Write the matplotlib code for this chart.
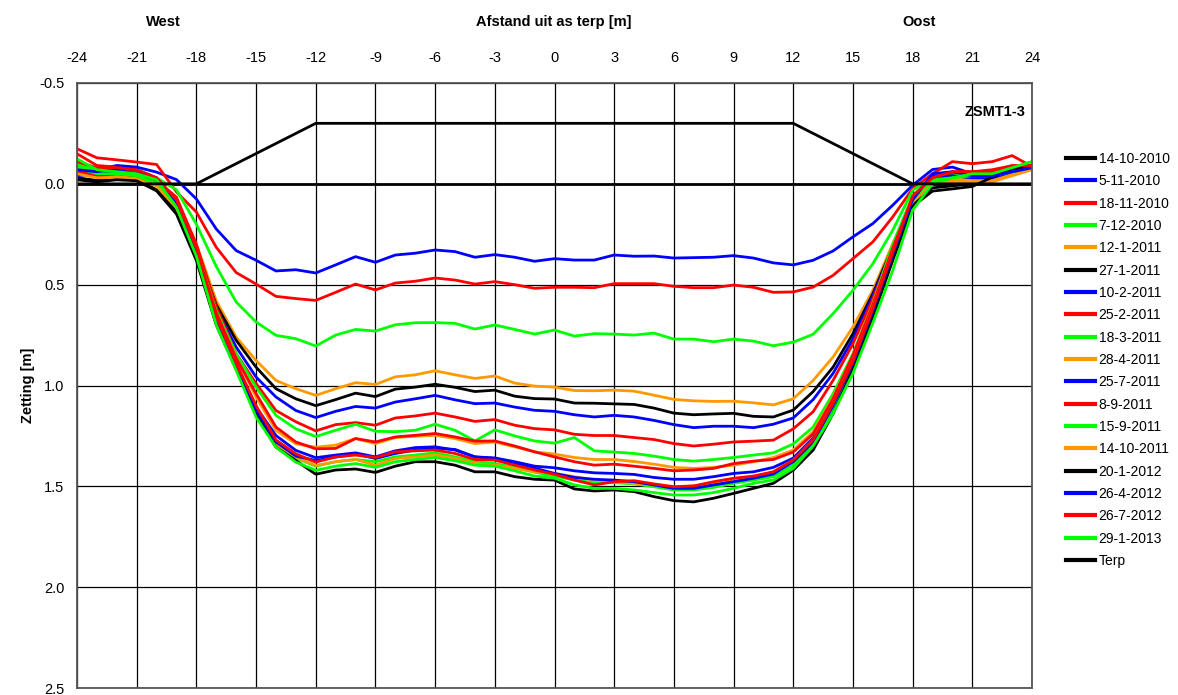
import matplotlib
matplotlib.use("Agg")
import matplotlib.pyplot as plt
import numpy as np

plt.rcParams['font.family'] = ['Liberation Sans', 'DejaVu Sans']

# ---- data ----
x_m = list(range(-24, 25))
xticks = list(range(-24, 25, 3))
yticks = [-0.5, 0.0, 0.5, 1.0, 1.5, 2.0, 2.5]

labels = ["14-10-2010", "5-11-2010", "18-11-2010", "7-12-2010", "12-1-2011", "27-1-2011",
          "10-2-2011", "25-2-2011", "18-3-2011", "28-4-2011", "25-7-2011", "8-9-2011",
          "15-9-2011", "14-10-2011", "20-1-2012", "26-4-2012", "26-7-2012", "29-1-2013"]
colors = ["#000000", "#0000FF", "#FF0000", "#00FF00", "#FF9900", "#000000",
          "#0000FF", "#FF0000", "#00FF00", "#FF9900", "#0000FF", "#FF0000",
          "#00FF00", "#FF9900", "#000000", "#0000FF", "#FF0000", "#00FF00"]

s_14_10_2010 = [0.0] * 49
s_5_11_2010 = [-0.086, -0.071, -0.091, -0.083, -0.058, -0.021, 0.075, 0.224, 0.331, 0.379, 0.432, 0.426, 0.442,
               0.402, 0.361, 0.389, 0.353, 0.344, 0.328, 0.336, 0.364, 0.351, 0.364, 0.384, 0.371,
               0.378, 0.378, 0.353, 0.359, 0.358, 0.368, 0.366, 0.364, 0.356, 0.368, 0.392, 0.402,
               0.379, 0.333, 0.263, 0.197, 0.106, 0.007, -0.071, -0.083, -0.05, -0.05, -0.07, -0.08]
s_18_11_2010 = [-0.174, -0.129, -0.119, -0.108, -0.096, 0.04, 0.14, 0.315, 0.44, 0.497, 0.558, 0.569, 0.578,
                0.538, 0.497, 0.526, 0.492, 0.483, 0.467, 0.477, 0.497, 0.485, 0.5, 0.518, 0.513,
                0.513, 0.515, 0.495, 0.495, 0.495, 0.508, 0.515, 0.515, 0.502, 0.513, 0.538, 0.536,
                0.512, 0.454, 0.371, 0.288, 0.164, 0.024, -0.05, -0.11, -0.10, -0.11, -0.14, -0.086]
s_7_12_2010 = [-0.10, -0.07, -0.06, -0.05, -0.03, 0.03, 0.2, 0.41, 0.586, 0.685, 0.751, 0.768, 0.804,
               0.75, 0.722, 0.73, 0.699, 0.689, 0.688, 0.692, 0.72, 0.70, 0.722, 0.745, 0.725,
               0.755, 0.743, 0.745, 0.75, 0.74, 0.77, 0.77, 0.783, 0.77, 0.78, 0.803, 0.785,
               0.746, 0.644, 0.528, 0.396, 0.23, 0.032, -0.03, -0.04, -0.05, -0.05, -0.07, -0.09]
s_12_1_2011 = [-0.07, -0.041, -0.036, -0.03, 0.0, 0.08, 0.30, 0.58, 0.76, 0.876, 0.975, 1.016, 1.049,
               1.016, 0.986, 0.995, 0.957, 0.947, 0.927, 0.947, 0.965, 0.953, 0.988, 1.003, 1.008,
               1.025, 1.026, 1.023, 1.028, 1.048, 1.069, 1.076, 1.079, 1.078, 1.086, 1.096, 1.066,
               0.975, 0.859, 0.71, 0.528, 0.297, 0.081, -0.01, -0.02, -0.02, -0.02, -0.06, -0.08]
s_27_1_2011 = [-0.03, -0.017, -0.03, -0.025, 0.03, 0.13, 0.33, 0.60, 0.776, 0.909, 1.016, 1.066, 1.10,
               1.07, 1.038, 1.055, 1.018, 1.008, 0.994, 1.009, 1.03, 1.023, 1.053, 1.065, 1.067,
               1.087, 1.088, 1.091, 1.094, 1.112, 1.137, 1.145, 1.141, 1.138, 1.153, 1.156, 1.122,
               1.03, 0.909, 0.743, 0.545, 0.313, 0.098, 0.02, 0.01, 0.0, -0.02, -0.06, -0.08]
s_10_2_2011 = [-0.05, -0.06, -0.07, -0.06, -0.02, 0.08, 0.31, 0.62, 0.809, 0.958, 1.057, 1.124, 1.159,
               1.128, 1.104, 1.112, 1.082, 1.066, 1.049, 1.071, 1.09, 1.087, 1.107, 1.123, 1.128,
               1.145, 1.156, 1.148, 1.156, 1.173, 1.194, 1.209, 1.202, 1.202, 1.209, 1.192, 1.161,
               1.07, 0.94, 0.77, 0.554, 0.32, 0.09, -0.04, -0.04, -0.03, -0.03, -0.06, -0.08]
s_25_2_2011 = [-0.149, -0.091, -0.083, -0.061, -0.017, 0.066, 0.30, 0.61, 0.842, 0.99, 1.124, 1.18, 1.225,
               1.194, 1.184, 1.197, 1.161, 1.151, 1.137, 1.156, 1.178, 1.169, 1.197, 1.214, 1.22,
               1.242, 1.248, 1.248, 1.258, 1.268, 1.288, 1.30, 1.291, 1.28, 1.276, 1.271, 1.215,
               1.13, 0.975, 0.793, 0.57, 0.32, 0.08, -0.03, -0.05, -0.06, -0.06, -0.09, -0.09]
s_18_3_2011 = [-0.09, -0.06, -0.05, -0.04, -0.01, 0.09, 0.33, 0.63, 0.842, 1.008, 1.148, 1.215, 1.253,
               1.222, 1.192, 1.227, 1.229, 1.222, 1.192, 1.222, 1.275, 1.22, 1.25, 1.275, 1.286,
               1.258, 1.324, 1.33, 1.337, 1.35, 1.367, 1.375, 1.367, 1.357, 1.345, 1.334, 1.29,
               1.206, 1.041, 0.842, 0.594, 0.30, 0.06, -0.03, -0.04, -0.06, -0.05, -0.08, -0.11]
s_28_4_2011 = [-0.06, -0.04, -0.04, -0.03, 0.0, 0.1, 0.33, 0.64, 0.86, 1.057, 1.223, 1.289, 1.306,
               1.296, 1.263, 1.288, 1.258, 1.252, 1.247, 1.263, 1.288, 1.28, 1.304, 1.329, 1.34,
               1.357, 1.367, 1.367, 1.377, 1.39, 1.406, 1.411, 1.406, 1.395, 1.378, 1.357, 1.32,
               1.23, 1.06, 0.85, 0.594, 0.32, 0.08, -0.01, -0.02, -0.02, -0.02, -0.05, -0.08]
s_25_7_2011 = [-0.04, -0.05, -0.06, -0.05, -0.02, 0.1, 0.34, 0.66, 0.89, 1.107, 1.248, 1.322, 1.358,
               1.345, 1.334, 1.354, 1.324, 1.308, 1.304, 1.32, 1.354, 1.359, 1.378, 1.40, 1.408,
               1.423, 1.433, 1.436, 1.441, 1.456, 1.465, 1.465, 1.452, 1.436, 1.428, 1.406, 1.36,
               1.26, 1.08, 0.88, 0.61, 0.33, 0.08, -0.03, -0.04, -0.03, -0.03, -0.06, -0.08]
s_8_9_2011 = [-0.06, -0.04, -0.05, -0.04, 0.0, 0.1, 0.33, 0.64, 0.865, 1.04, 1.206, 1.28, 1.314,
              1.312, 1.263, 1.28, 1.255, 1.247, 1.238, 1.255, 1.276, 1.275, 1.30, 1.329, 1.354,
              1.378, 1.395, 1.39, 1.40, 1.411, 1.423, 1.419, 1.411, 1.387, 1.375, 1.367, 1.33,
              1.24, 1.066, 0.85, 0.60, 0.32, 0.07, -0.03, -0.06, -0.06, -0.06, -0.08, -0.09]
s_15_9_2011 = [-0.08, -0.05, -0.05, -0.04, 0.0, 0.11, 0.35, 0.67, 0.91, 1.14, 1.289, 1.36, 1.40,
               1.378, 1.367, 1.378, 1.354, 1.345, 1.334, 1.354, 1.378, 1.387, 1.406, 1.43, 1.449,
               1.469, 1.482, 1.482, 1.488, 1.502, 1.518, 1.518, 1.505, 1.485, 1.469, 1.452, 1.395,
               1.296, 1.12, 0.90, 0.64, 0.36, 0.08, -0.02, -0.03, -0.04, -0.04, -0.06, -0.08]
s_14_10_2011 = [-0.05, -0.03, -0.03, -0.02, 0.01, 0.12, 0.36, 0.68, 0.90, 1.12, 1.289, 1.355, 1.397,
                1.378, 1.367, 1.395, 1.362, 1.354, 1.345, 1.362, 1.387, 1.395, 1.411, 1.428, 1.436,
                1.452, 1.469, 1.477, 1.485, 1.493, 1.502, 1.498, 1.485, 1.469, 1.452, 1.428, 1.37,
                1.27, 1.09, 0.88, 0.62, 0.34, 0.09, 0.0, -0.01, -0.01, -0.01, -0.04, -0.07]
s_20_1_2012 = [-0.02, -0.01, -0.02, -0.015, 0.035, 0.15, 0.38, 0.70, 0.92, 1.14, 1.306, 1.372, 1.44,
               1.419, 1.414, 1.431, 1.40, 1.378, 1.378, 1.395, 1.428, 1.428, 1.452, 1.465, 1.469,
               1.513, 1.523, 1.518, 1.526, 1.551, 1.571, 1.577, 1.559, 1.535, 1.51, 1.485, 1.42,
               1.32, 1.14, 0.92, 0.66, 0.38, 0.112, 0.036, 0.025, 0.013, -0.033, -0.074, -0.083]
s_26_4_2012 = [-0.07, -0.06, -0.08, -0.07, -0.03, 0.09, 0.34, 0.67, 0.90, 1.12, 1.28, 1.35, 1.372,
               1.355, 1.34, 1.362, 1.337, 1.32, 1.312, 1.317, 1.354, 1.362, 1.387, 1.41, 1.436,
               1.456, 1.465, 1.469, 1.477, 1.493, 1.51, 1.51, 1.493, 1.477, 1.46, 1.439, 1.378,
               1.28, 1.10, 0.89, 0.63, 0.35, 0.08, -0.05, -0.06, -0.04, -0.04, -0.06, -0.08]
s_26_7_2012 = [-0.11, -0.08, -0.08, -0.07, -0.03, 0.08, 0.32, 0.66, 0.89, 1.10, 1.27, 1.339, 1.38,
               1.354, 1.345, 1.357, 1.329, 1.324, 1.32, 1.337, 1.367, 1.37, 1.395, 1.419, 1.44,
               1.469, 1.493, 1.477, 1.472, 1.488, 1.502, 1.498, 1.477, 1.46, 1.449, 1.428, 1.37,
               1.27, 1.09, 0.88, 0.62, 0.34, 0.06, -0.03, -0.06, -0.06, -0.07, -0.09, -0.09]
s_29_1_2013 = [-0.124, -0.07, -0.06, -0.05, -0.02, 0.116, 0.36, 0.70, 0.925, 1.157, 1.306, 1.38, 1.421,
               1.40, 1.387, 1.406, 1.378, 1.367, 1.357, 1.373, 1.395, 1.40, 1.423, 1.449, 1.46,
               1.493, 1.51, 1.51, 1.518, 1.531, 1.543, 1.543, 1.531, 1.51, 1.485, 1.469, 1.411,
               1.30, 1.14, 0.94, 0.69, 0.43, 0.13, 0.0, -0.03, -0.05, -0.05, -0.08, -0.11]

series = [s_14_10_2010, s_5_11_2010, s_18_11_2010, s_7_12_2010, s_12_1_2011, s_27_1_2011,
          s_10_2_2011, s_25_2_2011, s_18_3_2011, s_28_4_2011, s_25_7_2011, s_8_9_2011,
          s_15_9_2011, s_14_10_2011, s_20_1_2012, s_26_4_2012, s_26_7_2012, s_29_1_2013]

terp_x = [-24, -18, -12, 12, 18, 24]
terp_y = [0.0, 0.0, -0.3, -0.3, 0.0, 0.0]

# ---- figure ----
fig = plt.figure(figsize=(11.78, 6.95), dpi=100)
ax = fig.add_axes([77 / 1178, 1 - 688 / 695, (1032 - 77) / 1178, (688 - 83) / 695])

for vals, lab, col in zip(series, labels, colors):
    ax.plot(x_m, vals, color=col, lw=2.0, label=lab, solid_joinstyle='round')
ax.plot(terp_x, terp_y, color='black', lw=2.0, label='Terp')

ax.set_xlim(-24, 24)
ax.set_ylim(2.5, -0.5)
ax.xaxis.tick_top()
ax.set_xticks(xticks)
ax.set_xticklabels([str(v) for v in xticks])
ax.set_yticks(yticks)
ax.set_yticklabels([f"{v:.1f}" for v in yticks])
ax.tick_params(axis='both', length=0, labelsize=10.5, pad=13)
ax.tick_params(axis='y', pad=9)
ax.grid(True, color='black', lw=0.9)
ax.set_axisbelow(True)
for sp in ax.spines.values():
    sp.set_color('#555555')
    sp.set_linewidth(1.3)

ax.set_ylabel('Zetting [m]', fontsize=10.5, fontweight='bold', labelpad=3)

fig.text(163 / 1178, 1 - 22 / 695, 'West', ha='center', va='center', fontsize=10.5, fontweight='bold')
fig.text(554 / 1178, 1 - 22 / 695, 'Afstand uit as terp [m]', ha='center', va='center', fontsize=10.5, fontweight='bold')
fig.text(919 / 1178, 1 - 22 / 695, 'Oost', ha='center', va='center', fontsize=10.5, fontweight='bold')
ax.text(0.993, 0.952, 'ZSMT1-3', transform=ax.transAxes, ha='right', va='center', fontsize=10.5, fontweight='bold')

leg = fig.legend(loc='upper left', bbox_to_anchor=(1066 / 1178, 1 - 152 / 695), frameon=False,
                 fontsize=10, handlelength=2.1, handletextpad=0.25, labelspacing=0.6,
                 borderaxespad=0, borderpad=0)
for l in leg.get_lines():
    l.set_linewidth(3)

fig.savefig('out.png', dpi=100)
